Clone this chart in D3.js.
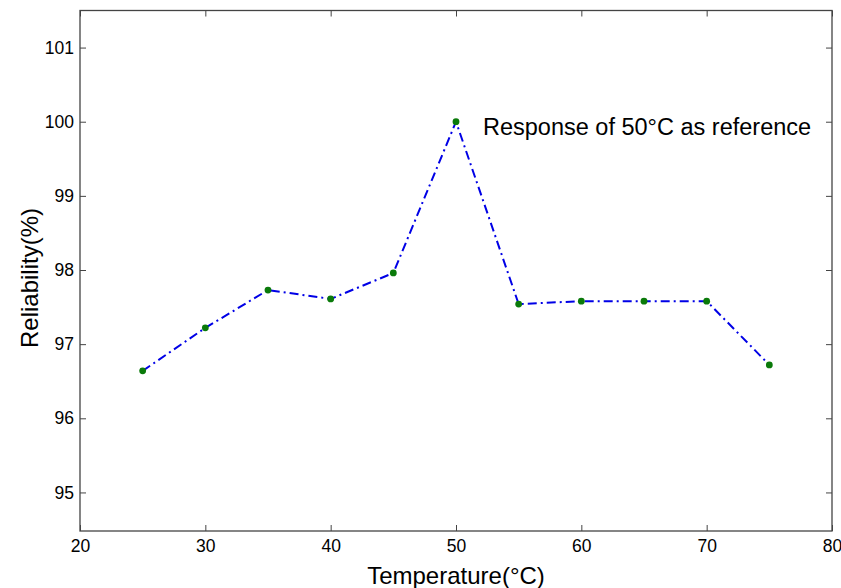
<!DOCTYPE html>
<html>
<head>
<meta charset="utf-8">
<script src="https://cdn.jsdelivr.net/npm/d3@7"></script>
<style>
  body { margin: 0; background: #fff; }
  text { font-family: "Liberation Sans", Arial, Helvetica, sans-serif; }
</style>
</head>
<body>
<div id="chart"></div>
<script>
// data
const temperatures = [25, 30, 35, 40, 45, 50, 55, 60, 65, 70, 75];
const reliability  = [96.64, 97.22, 97.73, 97.61, 97.96, 100, 97.54, 97.58, 97.58, 97.58, 96.72];
const xTicks = [20, 30, 40, 50, 60, 70, 80];
const yTicks = [95, 96, 97, 98, 99, 100, 101];
const annotation = 'Response of 50\u00B0C as reference';

const width = 841, height = 588;
const margin = { top: 10.5, right: 9, bottom: 57, left: 80 };

const svg = d3.select('#chart').append('svg')
  .attr('width', width)
  .attr('height', height)
  .attr('viewBox', [0, 0, width, height]);

const x = d3.scaleLinear().domain([20, 80]).range([margin.left, width - margin.right]);
const y = d3.scaleLinear().domain([94.48, 101.5]).range([height - margin.bottom, margin.top]);

// frame
svg.append('rect')
  .attr('x', x(20)).attr('y', y(101.5))
  .attr('width', x(80) - x(20)).attr('height', y(94.48) - y(101.5))
  .attr('fill', 'none').attr('stroke', '#444').attr('stroke-width', 1.3);

// axes with inward ticks (bottom/left labelled, top/right bare)
const tickLen = 6;
const axBottom = svg.append('g').attr('transform', `translate(0,${y(94.48)})`)
  .call(d3.axisBottom(x).tickValues(xTicks).tickSize(-tickLen).tickPadding(9));
const axTop = svg.append('g').attr('transform', `translate(0,${y(101.5)})`)
  .call(d3.axisTop(x).tickValues(xTicks).tickSize(-tickLen).tickFormat(''));
const axLeft = svg.append('g').attr('transform', `translate(${x(20)},0)`)
  .call(d3.axisLeft(y).tickValues(yTicks).tickSize(-tickLen).tickPadding(6).tickFormat(d3.format('d')));
const axRight = svg.append('g').attr('transform', `translate(${x(80)},0)`)
  .call(d3.axisRight(y).tickValues(yTicks).tickSize(-tickLen).tickFormat(''));

[axBottom, axTop, axLeft, axRight].forEach(g => {
  g.select('.domain').remove();
  g.selectAll('line').attr('stroke', '#444').attr('stroke-width', 1);
  g.selectAll('text').attr('fill', '#000').style('font-size', '17.5px')
    .style('font-family', '"Liberation Sans", Arial, sans-serif');
});

// line
const pts = temperatures.map((t, i) => [t, reliability[i]]);
svg.append('path')
  .datum(pts)
  .attr('fill', 'none')
  .attr('stroke', '#0000e6')
  .attr('stroke-width', 2)
  .attr('stroke-dasharray', '9,4,2,4')
  .attr('d', d3.line().x(d => x(d[0])).y(d => y(d[1])));

// markers
svg.append('g').selectAll('circle')
  .data(pts)
  .join('circle')
  .attr('cx', d => x(d[0]))
  .attr('cy', d => y(d[1]))
  .attr('r', 3.4)
  .attr('fill', '#0a7a0a');

// annotation
svg.append('text')
  .attr('x', 483).attr('y', 135)
  .style('font-size', '23.5px')
  .text(annotation);

// axis titles
svg.append('text')
  .attr('x', x(50)).attr('y', 584)
  .attr('text-anchor', 'middle')
  .style('font-size', '24px')
  .text('Temperature(\u00B0C)');

svg.append('text')
  .attr('transform', `translate(38,${y(98) + 8}) rotate(-90)`)
  .attr('text-anchor', 'middle')
  .style('font-size', '24px')
  .text('Reliability(%)');
</script>
</body>
</html>
